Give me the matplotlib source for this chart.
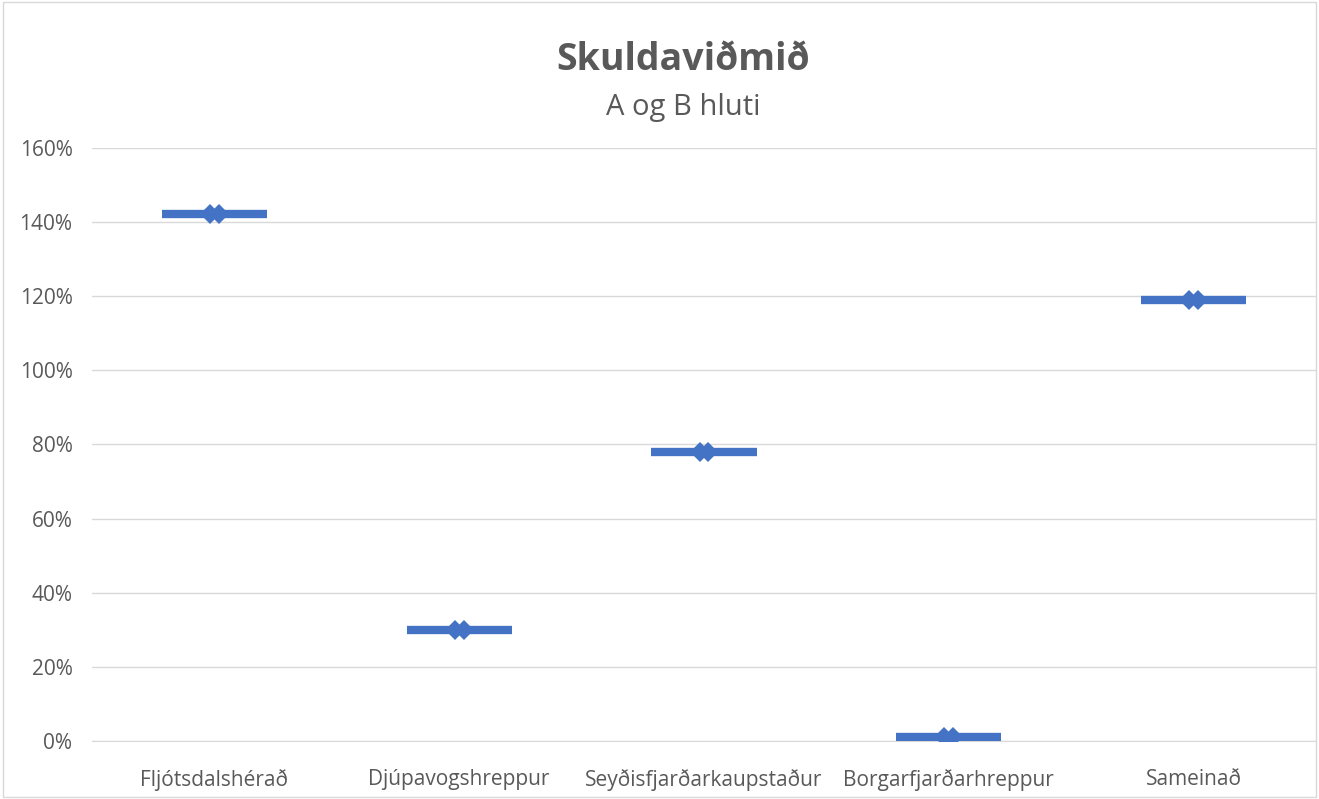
import matplotlib.pyplot as plt
from matplotlib.patches import Rectangle
from matplotlib.ticker import FuncFormatter

# Debt ratio per municipality (A and B parts), in percent
categories = ['Fljótsdalshérað', 'Djúpavogshreppur', 'Seyðisfjarðarkaupstaður',
              'Borgarfjarðarhreppur', 'Sameinað']
values = [142.2, 29.9, 78.0, 1.1, 119.0]
yticks = [0, 20, 40, 60, 80, 100, 120, 140, 160]

blue = '#4472C4'
gray = '#595959'

plt.rcParams['font.family'] = ['Open Sans', 'DejaVu Sans']

fig = plt.figure(figsize=(13.19, 7.99), dpi=100)
fig.patches.append(Rectangle((0.002, 0.002), 0.996, 0.996, transform=fig.transFigure,
                             fill=False, edgecolor='#D9D9D9', linewidth=1))
ax = fig.add_axes([0.0697, 0.0726, 0.928, 0.7422])

x = range(len(categories))
ax.hlines(values, [i - 0.215 for i in x], [i + 0.215 for i in x],
          color=blue, linewidth=6, zorder=3)
for off in (-0.018, 0.018):
    ax.plot([i + off for i in x], values, linestyle='none', marker='D',
            markersize=10, color=blue, markeredgewidth=0, zorder=4)

ax.set_xlim(-0.5, len(categories) - 0.5)
ax.set_ylim(0, 160)
ax.set_yticks(yticks)
ax.yaxis.set_major_formatter(FuncFormatter(lambda v, p: f'{v:.0f}%'))
ax.set_xticks(list(x))
ax.set_xticklabels(categories)
ax.grid(axis='y', color='#D9D9D9', linewidth=1)
ax.set_axisbelow(True)
for side in ['top', 'right', 'left']:
    ax.spines[side].set_visible(False)
ax.spines['bottom'].set_color('#D9D9D9')
ax.tick_params(axis='both', length=0, labelsize=15, colors=gray)
ax.tick_params(axis='y', pad=14)
ax.tick_params(axis='x', pad=20)

fig.text(0.518, 0.925, 'Skuldaviðmið', ha='center', va='center',
         fontsize=27, fontweight='bold', color=gray)
fig.text(0.518, 0.865, 'A og B hluti', ha='center', va='center',
         fontsize=21, color=gray)

plt.savefig('out.png', dpi=100)
